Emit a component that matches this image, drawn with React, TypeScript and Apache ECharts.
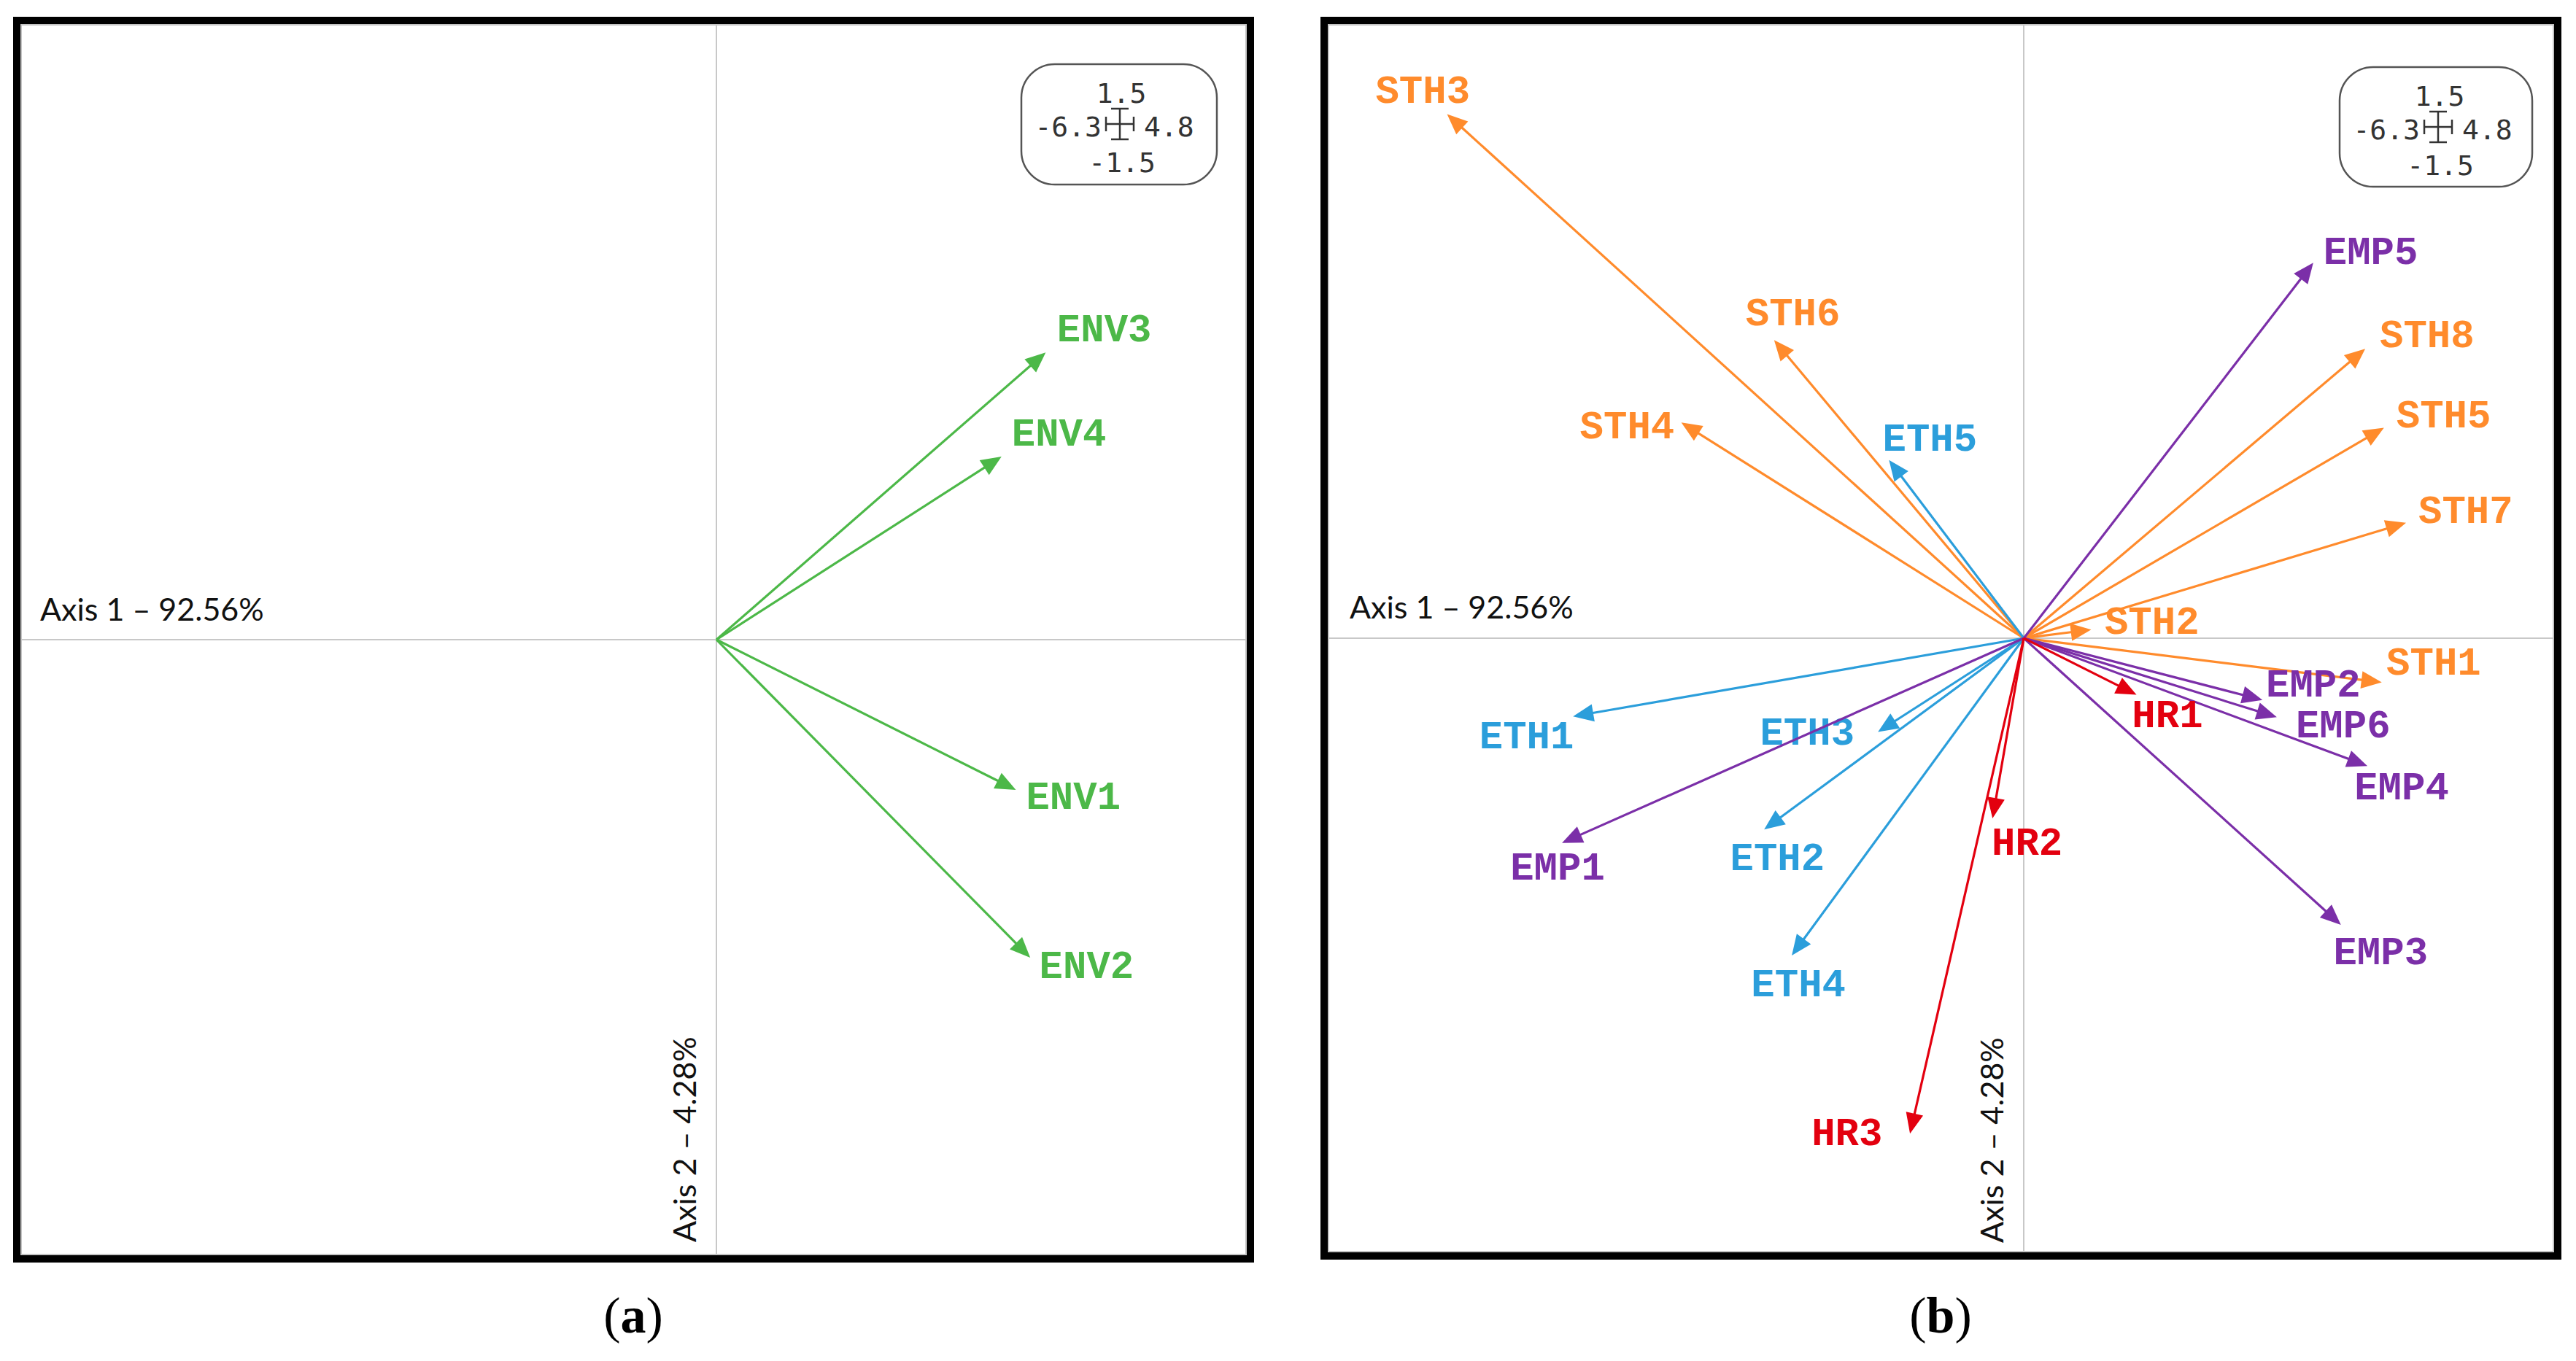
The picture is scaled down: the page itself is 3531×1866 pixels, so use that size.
import React, { useEffect, useRef } from "react";
import * as echarts from "echarts";

// ---------- DATA ----------
const xRange = [-6.3, 4.8];
const yRange = [-1.5, 1.5];

// Panel (a) – environmental items
const envNames = ["ENV1", "ENV2", "ENV3", "ENV4"];
const envX = [2.71, 2.84, 2.98, 2.58];
const envY = [-0.366, -0.775, 0.70, 0.446];
const envLabelX = [3.23, 3.35, 3.51, 3.10];
const envLabelY = [-0.387, -0.798, 0.752, 0.498];

// Panel (b)
const sthNames = ["STH1", "STH2", "STH3", "STH4", "STH5", "STH6", "STH7", "STH8"];
const sthX = [3.24, 0.61, -5.22, -3.10, 3.26, -2.26, 3.46, 3.09];
const sthY = [-0.108, 0.021, 1.28, 0.527, 0.514, 0.728, 0.282, 0.707];
const sthLabelX = [3.71, 1.16, -5.44, -3.59, 3.80, -2.09, 4.00, 3.65];
const sthLabelY = [-0.064, 0.036, 1.334, 0.514, 0.54, 0.79, 0.308, 0.737];

const ethNames = ["ETH1", "ETH2", "ETH3", "ETH4", "ETH5"];
const ethX = [-4.08, -2.35, -1.32, -2.10, -1.22];
const ethY = [-0.191, -0.467, -0.229, -0.775, 0.435];
const ethLabelX = [-4.50, -2.23, -1.96, -2.04, -0.85];
const ethLabelY = [-0.244, -0.541, -0.234, -0.849, 0.484];

const empNames = ["EMP1", "EMP2", "EMP3", "EMP4", "EMP5", "EMP6"];
const empX = [-4.18, 2.16, 2.87, 3.11, 2.62, 2.29];
const empY = [-0.50, -0.151, -0.70, -0.312, 0.917, -0.193];
const empLabelX = [-4.22, 2.62, 3.23, 3.42, 3.14, 2.89];
const empLabelY = [-0.563, -0.116, -0.771, -0.367, 0.94, -0.216];

const hrNames = ["HR1", "HR2", "HR3"];
const hrX = [1.02, -0.283, -1.03];
const hrY = [-0.138, -0.44, -1.21];
const hrLabelX = [1.30, 0.03, -1.60];
const hrLabelY = [-0.191, -0.503, -1.213];

const axis1Label = "Axis 1 \u2013 92.56%";
const axis2Label = "Axis 2 \u2013 4.28%";
const boxTop = "1.5";
const boxLeft = "-6.3";
const boxRight = "4.8";
const boxBottom = "-1.5";

// ---------- STYLE ----------
const GREEN = "#4cb848";
const ORANGE = "#ff8b2c";
const BLUE = "#2b9edb";
const PURPLE = "#7b2fa8";
const RED = "#e3000f";
const LABEL_FONT = '"Liberation Mono", "DejaVu Sans Mono", monospace';

function buildData(xs: number[], ys: number[], lxs: number[], lys: number[]) {
  return xs.map((x, i) => [x, ys[i], lxs[i], lys[i]]);
}

function arrowSeries(
  gridIdx: number,
  names: string[],
  xs: number[],
  ys: number[],
  lxs: number[],
  lys: number[],
  color: string
) {
  return {
    type: "custom",
    xAxisIndex: gridIdx,
    yAxisIndex: gridIdx,
    clip: false,
    silent: true,
    data: buildData(xs, ys, lxs, lys),
    renderItem: (params: any, api: any) => {
      const x = api.value(0);
      const y = api.value(1);
      const lx = api.value(2);
      const ly = api.value(3);
      const o = api.coord([0, 0]);
      const t = api.coord([x, y]);
      const lp = api.coord([lx, ly]);
      const dx = t[0] - o[0];
      const dy = t[1] - o[1];
      const len = Math.sqrt(dx * dx + dy * dy) || 1;
      const ux = dx / len;
      const uy = dy / len;
      const L = 28;
      const Wd = 12;
      const bx = t[0] - ux * L;
      const by = t[1] - uy * L;
      const px = -uy;
      const py = ux;
      return {
        type: "group",
        children: [
          {
            type: "line",
            shape: { x1: o[0], y1: o[1], x2: bx + ux * 2, y2: by + uy * 2 },
            style: { stroke: color, lineWidth: 3.2 },
          },
          {
            type: "polygon",
            shape: {
              points: [
                [t[0], t[1]],
                [bx + px * Wd, by + py * Wd],
                [bx - px * Wd, by - py * Wd],
              ],
            },
            style: { fill: color },
          },
          {
            type: "text",
            x: lp[0],
            y: lp[1],
            style: {
              text: names[params.dataIndex],
              fill: color,
              fontSize: 54,
              fontWeight: "bold",
              fontFamily: LABEL_FONT,
              align: "center",
              verticalAlign: "middle",
            },
          },
        ],
      };
    },
  };
}

function axisPair(gridIdx: number) {
  const common = {
    gridIndex: gridIdx,
    type: "value",
    axisLine: { show: true, onZero: true, lineStyle: { color: "#c8c8c8", width: 2 } },
    axisTick: { show: false },
    axisLabel: { show: false },
    splitLine: { show: false },
  };
  return {
    x: { ...common, min: xRange[0], max: xRange[1] },
    y: { ...common, min: yRange[0], max: yRange[1] },
  };
}

function infoBox(left: number, top: number, w: number, h: number) {
  const stroke = "#333";
  const font = '"DejaVu Sans Mono", monospace';
  const cx = left + 135;
  const cy = top + 82;
  return [
    {
      type: "rect",
      shape: { x: left, y: top, width: w, height: h, r: 46 },
      style: { fill: "#fff", stroke: "#555", lineWidth: 2.5 },
    },
    {
      type: "text",
      x: left + 137,
      y: top + 40,
      style: { text: boxTop, fill: stroke, fontSize: 38, fontFamily: font, align: "center", verticalAlign: "middle" },
    },
    {
      type: "text",
      x: left + 110,
      y: top + 86,
      style: { text: boxLeft, fill: stroke, fontSize: 38, fontFamily: font, align: "right", verticalAlign: "middle" },
    },
    {
      type: "text",
      x: left + 168,
      y: top + 86,
      style: { text: boxRight, fill: stroke, fontSize: 38, fontFamily: font, align: "left", verticalAlign: "middle" },
    },
    {
      type: "text",
      x: left + 138,
      y: top + 135,
      style: { text: boxBottom, fill: stroke, fontSize: 38, fontFamily: font, align: "center", verticalAlign: "middle" },
    },
    { type: "line", shape: { x1: cx - 19, y1: cy, x2: cx + 19, y2: cy }, style: { stroke, lineWidth: 2.5 } },
    { type: "line", shape: { x1: cx - 19, y1: cy - 10, x2: cx - 19, y2: cy + 10 }, style: { stroke, lineWidth: 2.5 } },
    { type: "line", shape: { x1: cx + 19, y1: cy - 10, x2: cx + 19, y2: cy + 10 }, style: { stroke, lineWidth: 2.5 } },
    { type: "line", shape: { x1: cx, y1: cy - 21, x2: cx, y2: cy + 21 }, style: { stroke, lineWidth: 2.5 } },
    { type: "line", shape: { x1: cx - 12, y1: cy - 21, x2: cx + 12, y2: cy - 21 }, style: { stroke, lineWidth: 2.5 } },
    { type: "line", shape: { x1: cx - 12, y1: cy + 21, x2: cx + 12, y2: cy + 21 }, style: { stroke, lineWidth: 2.5 } },
  ];
}

function frame(x: number, y: number, w: number, h: number) {
  return [
    {
      type: "rect",
      shape: { x: x + 6, y: y + 6, width: w - 12, height: h - 12 },
      style: { fill: "none", stroke: "#c4c4c4", lineWidth: 2 },
      z: 100,
    },
    {
      type: "rect",
      shape: { x, y, width: w, height: h },
      style: { fill: "none", stroke: "#000", lineWidth: 10 },
      z: 101,
    },
  ];
}

function axisTexts(x1: number, y1: number, x2: number, y2: number) {
  const font = 'Lato, "Open Sans", sans-serif';
  return [
    {
      type: "text",
      x: x1,
      y: y1,
      style: { text: axis1Label, fill: "#111", fontSize: 43, fontFamily: font, align: "left", verticalAlign: "middle" },
    },
    {
      type: "text",
      x: x2,
      y: y2,
      rotation: Math.PI / 2,
      style: { text: axis2Label, fill: "#111", fontSize: 43, fontFamily: font, align: "left", verticalAlign: "middle" },
    },
  ];
}

function caption(x: number, y: number, letter: string) {
  return {
    type: "text",
    x,
    y,
    style: {
      text: "{p|(}{b|" + letter + "}{p|)}",
      align: "center",
      verticalAlign: "middle",
      rich: {
        p: { fontSize: 70, fontFamily: '"Liberation Serif", serif', fill: "#000" },
        b: { fontSize: 70, fontFamily: '"Liberation Serif", serif', fontWeight: "bold", fill: "#000" },
      },
    },
  };
}

export default function App() {
  const ref = useRef<HTMLDivElement>(null);
  useEffect(() => {
    if (!ref.current) return;
    const chart = echarts.init(ref.current, undefined, { renderer: "svg" });
    const a = axisPair(0);
    const b = axisPair(1);
    chart.setOption({
      animation: false,
      backgroundColor: "#fff",
      grid: [
        { left: 28, top: 33, width: 1681, height: 1688 },
        { left: 1820, top: 33, width: 1681, height: 1684 },
      ],
      xAxis: [a.x, b.x],
      yAxis: [a.y, b.y],
      series: [
        arrowSeries(0, envNames, envX, envY, envLabelX, envLabelY, GREEN),
        arrowSeries(1, sthNames, sthX, sthY, sthLabelX, sthLabelY, ORANGE),
        arrowSeries(1, ethNames, ethX, ethY, ethLabelX, ethLabelY, BLUE),
        arrowSeries(1, empNames, empX, empY, empLabelX, empLabelY, PURPLE),
        arrowSeries(1, hrNames, hrX, hrY, hrLabelX, hrLabelY, RED),
      ],
      graphic: [
        ...frame(23, 28, 1691, 1698),
        ...frame(1815, 28, 1691, 1694),
        ...infoBox(1400, 88, 268, 165),
        ...infoBox(3207, 92, 264, 164),
        ...axisTexts(55, 834, 937, 1703),
        ...axisTexts(1850, 831, 2729, 1704),
        caption(868, 1803, "a"),
        caption(2660, 1803, "b"),
      ],
    });
    return () => chart.dispose();
  }, []);
  return (
    <div
      ref={ref}
      style={{ position: "fixed", left: 0, top: 0, width: 3531, height: 1866, background: "#fff" }}
    />
  );
}
